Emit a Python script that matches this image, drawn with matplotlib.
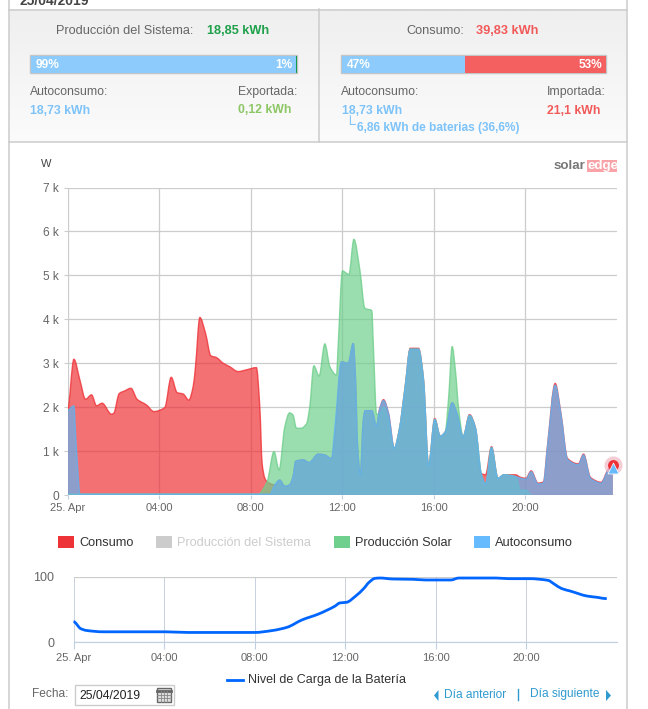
import matplotlib
matplotlib.use("Agg")
import matplotlib.pyplot as plt
import numpy as np
from matplotlib.path import Path
from matplotlib.patches import PathPatch, Rectangle, Polygon

plt.rcParams['font.family'] = ['Liberation Sans', 'DejaVu Sans']

# series, hours / kW
cons_h = [0, .28, .54, .79, 1.05, 1.27, 1.51, 1.92, 2.02, 2.26, 2.5, 2.77, 3.04, 3.45, 3.77, 4.25, 4.53, 4.79, 5.05, 5.3, 5.49, 5.59, 5.78, 6.03, 6.26, 6.5, 6.8, 7.09, 7.45, 7.82, 8.25, 8.4, 8.5, 8.62, 8.72, 9.05, 9.27, 9.49, 9.7, 9.85, 9.97, 10.29, 10.55, 10.95, 11.24, 11.53, 11.67, 11.97, 12.26, 12.48, 12.58, 12.67, 12.79, 12.92, 13.0, 13.29, 13.5, 13.62, 13.8, 14.02, 14.27, 14.49, 14.75, 14.97, 15.33, 15.55, 15.77, 16.04, 16.28, 16.5, 16.8, 17.01, 17.28, 17.56, 17.82, 18.07, 18.26, 18.52, 18.8, 19.06, 19.57, 19.8, 20.02, 20.25, 20.55, 20.79, 20.96, 21.3, 21.55, 21.84, 22.31, 22.54, 22.84, 23.31, 23.6, 23.82]
cons_kw = [1.93, 3.09, 2.62, 2.18, 2.28, 2.03, 2.09, 1.84, 1.86, 2.31, 2.37, 2.43, 2.18, 2.05, 1.90, 1.99, 2.68, 2.33, 2.30, 2.16, 2.47, 2.92, 4.04, 3.68, 3.17, 3.13, 3.0, 2.92, 2.81, 2.85, 2.90, 2.0, .72, .38, .30, .23, .34, .2, .23, .42, .77, .8, .74, .93, .91, .83, 1.25, 3.03, 3.0, 3.45, 2.62, 1.1, .46, 1.71, 1.92, 1.92, 1.57, 1.93, 2.17, 1.86, 1.06, 1.48, 2.47, 3.34, 3.34, 2.62, .66, 1.74, 1.34, 1.44, 2.1, 1.86, 1.33, 1.83, 1.52, .49, .46, 1.1, .38, .46, .46, .40, .38, .55, .27, .3, 1.1, 2.54, 1.86, .83, .71, .93, .40, .29, .57, .68]

solar_h = [0, 8.33, 8.72, 9.02, 9.24, 9.49, 9.7, 9.85, 10.0, 10.2, 10.44, 10.58, 10.76, 10.99, 11.24, 11.46, 11.75, 11.82, 12.01, 12.29, 12.51, 12.77, 12.99, 13.29, 13.36, 13.5, 13.65, 13.8, 14.02, 14.27, 14.49, 14.75, 14.97, 15.33, 15.55, 15.77, 16.04, 16.28, 16.5, 16.65, 16.8, 16.94, 17.09, 17.28, 17.56, 17.82, 18.07, 18.26, 18.52, 18.8, 19.06, 19.57, 19.79, 20.01, 20.23]
solar_kw = [0.02, 0.02, .3, .99, .57, 1.55, 1.87, 1.82, 1.52, 1.52, 1.62, 2.0, 2.94, 2.71, 3.44, 2.92, 2.73, 3.38, 5.10, 5.02, 5.82, 5.12, 4.25, 4.2, 3.38, 1.84, 1.86, 2.0, 1.7, 1.06, 1.48, 2.47, 3.32, 3.32, 2.62, .66, 1.72, 1.34, 1.44, 2.24, 3.38, 2.85, 1.93, 1.33, 1.81, 1.52, .49, .25, 1.08, .38, .46, .42, .11, .11, .02]

auto_h = [0, .28, .35, .44, .54, 8.7, 8.84, 9.05, 9.27, 9.49, 9.7, 9.85, 9.97, 10.29, 10.55, 10.95, 11.24, 11.53, 11.67, 11.97, 12.26, 12.48, 12.58, 12.67, 12.79, 12.92, 13.0, 13.29, 13.5, 13.62, 13.8, 14.02, 14.27, 14.49, 14.75, 14.97, 15.33, 15.55, 15.77, 16.04, 16.28, 16.5, 16.8, 17.01, 17.28, 17.56, 17.82, 18.07, 18.26, 18.52, 18.8, 19.06, 19.57, 19.8, 20.02, 20.25, 20.55, 20.79, 20.96, 21.3, 21.55, 21.84, 22.31, 22.54, 22.84, 23.31, 23.6, 23.82]
auto_kw = [1.93, 2.03, 1.40, .64, .02, .02, .02, .23, .34, .2, .23, .42, .77, .8, .74, .93, .91, .83, 1.48, 3.03, 3.0, 3.45, 2.62, 1.1, .46, 1.71, 1.92, 1.92, 1.57, 1.93, 2.15, 1.86, 1.06, 1.48, 2.47, 3.32, 3.32, 2.62, .66, 1.72, 1.34, 1.44, 2.1, 1.86, 1.33, 1.81, 1.52, .49, .25, 1.08, .38, .46, .42, .38, .36, .53, .25, .28, 1.08, 2.5, 1.84, .81, .69, .91, .38, .27, .55, .66]

batt_h = [0, .31, .58, 1.32, 4.06, 5.06, 8, 8.8, 9.45, 10.09, 10.82, 11.55, 11.77, 12.07, 12.47, 12.83, 13.05, 13.33, 13.56, 14.1, 15.03, 15.57, 16.67, 17.04, 18.68, 19.23, 20.15, 20.97, 21.24, 21.57, 21.97, 22.7, 23.16, 23.57]
batt_pct = [31.5, 21, 18, 16, 16, 15, 15, 18, 23, 34, 43, 55, 60, 61, 70.5, 82, 91, 97.5, 98, 96.5, 96, 95, 95, 98, 98, 97, 97, 94.5, 89, 82, 78, 70.5, 68.5, 66.5]

hour_ticks = [0, 4, 8, 12, 16, 20]
hour_labels = ['25. Apr', '04:00', '08:00', '12:00', '16:00', '20:00']
kw_ticks = [0, 1, 2, 3, 4, 5, 6, 7]
kw_labels = ['0', '1 k', '2 k', '3 k', '4 k', '5 k', '6 k', '7 k']

RED = '#EE3338'
GREEN = '#6FCF8C'
BLUE = '#66BBFF'
BLUE_AREA = '#62B2F0'
W, H = 648, 709


def smooth_path(xs, ys):
    # monotone cubic through the points, like the spline of the original chart
    xs, ys = np.asarray(xs, float), np.asarray(ys, float)
    dx = np.diff(xs)
    s = np.diff(ys) / dx
    m = np.zeros_like(xs)
    for i in range(1, len(xs) - 1):
        if s[i - 1] * s[i] > 0:
            m[i] = 2 * s[i - 1] * s[i] / (s[i - 1] + s[i])
    verts = [(xs[0], ys[0])]
    codes = [Path.MOVETO]
    for i in range(len(xs) - 1):
        verts += [(xs[i] + dx[i] / 3, ys[i] + m[i] * dx[i] / 3),
                  (xs[i + 1] - dx[i] / 3, ys[i + 1] - m[i + 1] * dx[i] / 3),
                  (xs[i + 1], ys[i + 1])]
        codes += [Path.CURVE4] * 3
    return verts, codes


def area(ax, xs, ys, color, alpha, z):
    verts, codes = smooth_path(xs, ys)
    closed = verts + [(xs[-1], 0), (xs[0], 0), (xs[0], ys[0])]
    ax.add_patch(PathPatch(Path(closed, codes + [Path.LINETO] * 3), fc=color, ec='none', alpha=alpha, zorder=z))
    ax.add_patch(PathPatch(Path(verts, codes), fc='none', ec=color, lw=1, alpha=.8, zorder=z))


def axes_px(x0, y0, x1, y1):
    return fig.add_axes([x0 / W, 1 - y1 / H, (x1 - x0) / W, (y1 - y0) / H])


fig = plt.figure(figsize=(W / 100, H / 100), dpi=100)

# page furniture in pixel coordinates
bg = fig.add_axes([0, 0, 1, 1])
bg.set_xlim(0, W)
bg.set_ylim(H, 0)
bg.axis('off')

grad = np.linspace(0, 1, 64).reshape(-1, 1)
bg.imshow(grad, extent=[9, 627, 142, 9], cmap=matplotlib.colors.LinearSegmentedColormap.from_list('p', ['#EFEFEF', '#FBFBFB']), aspect='auto', zorder=0)
bg.set_xlim(0, W)
bg.set_ylim(H, 0)
for xs, ys in [([9, 9], [0, H]), ([627, 627], [0, H]), ([9, 627], [9.5, 9.5]), ([9, 627], [142, 142]), ([319, 319], [9, 142])]:
    bg.plot(xs, ys, color='#CCCCCC', lw=1.1, zorder=1)


def label(x, y, s, color='#666666', size=8.8, weight='normal', ha='left', **kw):
    return bg.text(x, y, s, color=color, fontsize=size, fontweight=weight, ha=ha, va='center', zorder=5, **kw)


def bar(x0, x1, split, left, right, lc, rc):
    bg.add_patch(Rectangle((x0, 55), x1 - x0, 18, fc='#CFCFCF', ec='#C4C4C4', lw=1, zorder=2))
    bg.add_patch(Rectangle((x0 + .5, 55.5), split - x0, 17, fc=lc, ec='none', zorder=3))
    bg.add_patch(Rectangle((split, 55.5), x1 - split - .5, 17, fc=rc, ec='none', zorder=3))
    label(x0 + 6, 64.5, left, color='white', weight='bold', size=8.6)
    label(x1 - 4, 64.5, right, color='white', weight='bold', size=8.6, ha='right')


label(19, 1, '25/04/2019', color='#444444', weight='bold', size=10)
label(56, 31, 'Producción del Sistema:', size=9.2)
label(207, 31, '18,85 kWh', color='#1FA04A', weight='bold', size=9.2)
label(406, 31, 'Consumo:', size=9.2)
label(476, 31, '39,83 kWh', color='#F25A5A', weight='bold', size=9.2)

bar(30, 297, 296, '99%', '1%', '#8CCBFC', '#129A4A')
bar(341, 606, 465, '47%', '53%', '#8CCBFC', '#F45F5F')

label(30, 92, 'Autoconsumo:')
label(30, 111, '18,73 kWh', color='#7DC3FA', weight='bold')
label(238, 92, 'Exportada:')
label(238, 110, '0,12 kWh', color='#8CC665', weight='bold')
label(341, 92, 'Autoconsumo:')
label(342, 111, '18,73 kWh', color='#7DC3FA', weight='bold')
label(344, 125, '└', color='#7DC3FA', size=11)
label(357, 128, '6,86 kWh de baterias (36,6%)', color='#7DC3FA', weight='bold', size=8.6)
label(547, 92, 'Importada:')
label(547, 111, '21,1 kWh', color='#F25A5A', weight='bold')

label(41, 164, 'W', color='#444444', size=8)
label(554, 166, 'solar', color='#777777', weight='bold', size=9.6)
bg.add_patch(Rectangle((587, 160), 30, 12, fc='#F9A3A8', ec='none', zorder=4))
label(588, 166, 'edge', color='white', weight='bold', size=9.6)

# legend row
legend_items = [(58, 'Consumo', RED, '#333333'), (156, 'Producción del Sistema', '#CCCCCC', '#CCCCCC'),
                (334, 'Producción Solar', GREEN, '#333333'), (474, 'Autoconsumo', BLUE, '#333333')]
for lx, name, swatch, txt in legend_items:
    bg.add_patch(Rectangle((lx, 536), 16, 12, fc=swatch, ec='none', zorder=3))
    label(lx + 21, 543, name, color=txt, size=9.2)

# main chart
ax = axes_px(67.5, 187.5, 617, 495)
ax.set_xlim(0, 24)
ax.set_ylim(0, 7)
area(ax, cons_h, cons_kw, RED, .7, 3)
area(ax, solar_h, solar_kw, GREEN, .7, 4)
area(ax, auto_h, auto_kw, BLUE_AREA, .7, 5)
ax.scatter(cons_h[-1], cons_kw[-1], s=170, color='#F0B8C4', alpha=.7, zorder=6, clip_on=False, lw=0)
ax.scatter(cons_h[-1], cons_kw[-1], s=62, color=RED, zorder=7, clip_on=False, lw=0)
ax.scatter(auto_h[-1], cons_kw[-1] - .07, s=62, marker='^', color=BLUE, edgecolor='white', lw=.5, zorder=8, clip_on=False)
ax.set_xticks(hour_ticks)
ax.set_xticklabels(hour_labels)
ax.set_yticks(kw_ticks)
ax.set_yticklabels(kw_labels)
ax.grid(color='#CCCCCC', lw=.9, zorder=1)
ax.set_axisbelow(True)
ax.patch.set_alpha(0)
for s in ax.spines.values():
    s.set_visible(False)
ax.tick_params(axis='x', length=3, color='#C0D0E0', labelsize=8, labelcolor='#666666', pad=3)
ax.tick_params(axis='y', length=3, color='#CCCCCC', labelsize=8.6, labelcolor='#666666', pad=3)

# battery chart
ax2 = axes_px(73.5, 576.7, 616.5, 642.3)
ax2.set_xlim(0, 24)
ax2.set_ylim(0, 100)
verts, codes = smooth_path(batt_h, batt_pct)
ax2.add_patch(PathPatch(Path(verts, codes), fc='none', ec='#0066FF', lw=2, zorder=4, clip_on=False))
ax2.set_xticks(hour_ticks)
ax2.set_xticklabels(hour_labels)
ax2.set_yticks([0, 100])
ax2.grid(axis='y', color='#CCCCCC', lw=.9)
ax2.grid(axis='x', color='#C8D2E0', lw=.7)
ax2.set_axisbelow(True)
ax2.patch.set_alpha(0)
for s in ax2.spines.values():
    s.set_visible(False)
ax2.spines['bottom'].set_visible(True)
ax2.spines['bottom'].set_color('#C0D0E0')
ax2.tick_params(axis='x', length=5, color='#C0D0E0', labelsize=8, labelcolor='#666666', pad=3)
ax2.tick_params(axis='y', length=0, labelsize=9, labelcolor='#666666', pad=14)

bg.plot([227, 243], [680, 680], color='#0066FF', lw=2, zorder=3)
label(248, 680, 'Nivel de Carga de la Batería', color='#333333', size=9)

# date row
label(32, 694, 'Fecha:', size=8.6)
bg.add_patch(Rectangle((75, 685), 99, 20, fc='white', ec='#CCCCCC', lw=1, zorder=2))
label(79, 696, '25/04/2019', color='#222222', size=8.8)
bg.add_patch(Rectangle((157, 688), 14, 14, fc='#DDDDDD', ec='#666666', lw=1, zorder=3))
bg.plot([157, 171], [691, 691], color='#666666', lw=2, zorder=4)
for cx in [161, 164, 167]:
    bg.plot([cx, cx], [691, 702], color='#888888', lw=.6, zorder=4)
for cy in [695, 698]:
    bg.plot([157, 171], [cy, cy], color='#888888', lw=.6, zorder=4)

LINK = '#2E9AD0'
bg.add_patch(Polygon([[438.5, 690], [438.5, 701], [434, 695.5]], fc=LINK, ec='none', zorder=4))
label(444, 694.5, 'Día anterior', color=LINK, size=8.6)
bg.plot([518, 518], [689, 700], color=LINK, lw=1, zorder=4)
label(530, 694.5, 'Día siguiente', color=LINK, size=8.6)
bg.add_patch(Polygon([[606, 690], [606, 701], [611, 695.5]], fc=LINK, ec='none', zorder=4))

fig.savefig('out.png', dpi=100)
